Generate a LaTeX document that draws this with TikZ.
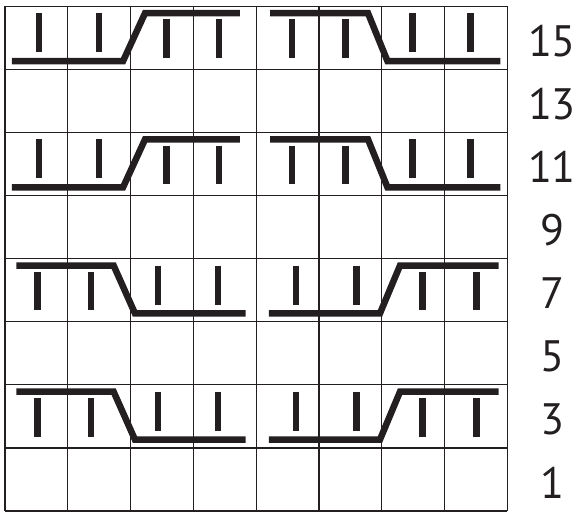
\documentclass[tikz,border=0pt]{standalone}
\usepackage{fontspec}
\setmainfont{PT Sans}
\definecolor{ink}{RGB}{35,31,32}
\tikzset{
  chart style/.style={
    x=62.8pt, y=63.1pt,   % one chart cell
    line join=miter,
  },
  grid line/.style={line width=1.3pt, ink},
  cable line/.style={line width=6.5pt, ink},
  knit bar/.style={line width=6.5pt, ink},
  row label/.style={font=\fontsize{44}{44}\selectfont, text=ink, inner sep=0pt},
}

\begin{document}
\begin{tikzpicture}[chart style]
    \useasboundingbox (-5pt,-2pt) rectangle (573pt,511pt);

    % Grid
    \foreach \i in {0,...,8} {
        \draw[grid line] (\i,0) -- (\i,8);
        \draw[grid line] (0,\i) -- (8,\i);
    }

    % Rows 3 and 7: falling cable left, rising cable right
    \foreach \r in {1,3} {
        \draw[cable line] (0.18,\r+0.89) -- (1.73,\r+0.89) -- (2.07,\r+0.13) -- (3.83,\r+0.13);
        \foreach \x in {0.52,1.37}
            \draw[knit bar] (\x,\r+0.79) -- (\x,\r+0.18);
        \foreach \x in {2.44,3.39}
            \draw[knit bar] (\x,\r+0.89) -- (\x,\r+0.27);

        \draw[cable line] (4.20,\r+0.13) -- (5.97,\r+0.13) -- (6.29,\r+0.89) -- (7.86,\r+0.89);
        \foreach \x in {4.63,5.60}
            \draw[knit bar] (\x,\r+0.89) -- (\x,\r+0.27);
        \foreach \x in {6.65,7.51}
            \draw[knit bar] (\x,\r+0.79) -- (\x,\r+0.18);
    }

    % Rows 11 and 15: rising cable left, falling cable right
    \foreach \r in {5,7} {
        \draw[cable line] (0.11,\r+0.13) -- (1.88,\r+0.13) -- (2.23,\r+0.89) -- (3.74,\r+0.89);
        \foreach \x in {0.54,1.50}
            \draw[knit bar] (\x,\r+0.89) -- (\x,\r+0.27);
        \foreach \x in {2.57,3.41}
            \draw[knit bar] (\x,\r+0.79) -- (\x,\r+0.18);

        \draw[cable line] (4.22,\r+0.89) -- (5.78,\r+0.89) -- (6.09,\r+0.13) -- (7.89,\r+0.13);
        \foreach \x in {4.57,5.42}
            \draw[knit bar] (\x,\r+0.79) -- (\x,\r+0.18);
        \foreach \x in {6.49,7.41}
            \draw[knit bar] (\x,\r+0.89) -- (\x,\r+0.27);
    }

    % Row numbers
    \foreach \i [evaluate=\i as \n using int(2*\i+1)] in {0,...,7}
        \node[row label] (row\n) at (8.71,\i+0.45) {\n};
\end{tikzpicture}
\end{document}
